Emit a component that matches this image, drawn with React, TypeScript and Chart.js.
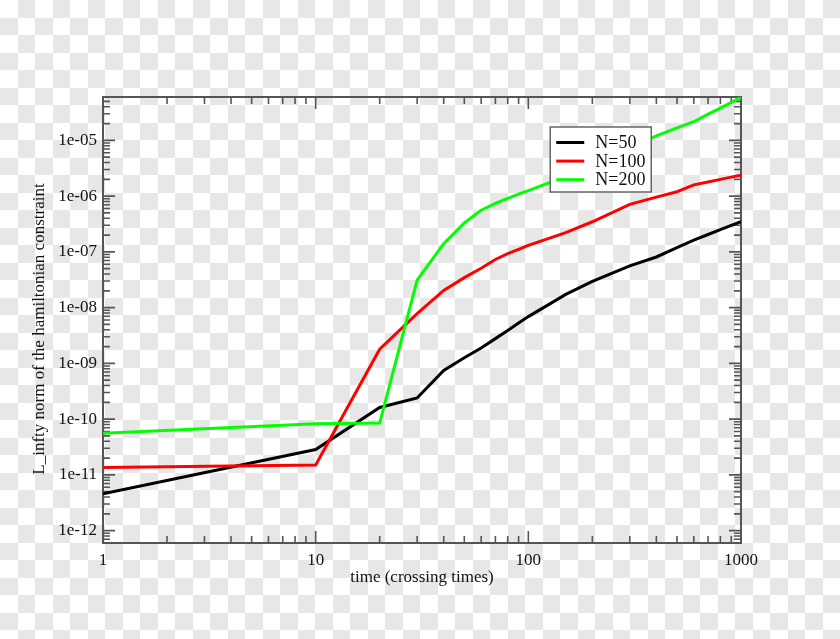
import React, { useEffect, useRef } from 'react';
import { Chart, registerables } from 'chart.js';

Chart.register(...registerables);

// ---- data ----
const times = [1, 10, 20, 30, 40, 50, 60, 70, 80, 90, 100, 150, 200, 300, 400, 500, 600, 700, 800, 900, 1000];
const n50 = [4.6e-12, 2.85e-11, 1.62e-10, 2.4e-10, 7.5e-10, 1.26e-9, 1.89e-9, 2.78e-9, 3.9e-9, 5.3e-9, 6.9e-9, 1.73e-8, 2.95e-8, 5.6e-8, 8.1e-8, 1.19e-7, 1.63e-7, 2.05e-7, 2.5e-7, 3.0e-7, 3.5e-7];
const n100 = [1.35e-11, 1.5e-11, 1.8e-9, 7.8e-9, 2.03e-8, 3.45e-8, 5.1e-8, 7.3e-8, 9.3e-8, 1.11e-7, 1.31e-7, 2.22e-7, 3.47e-7, 7.1e-7, 9.6e-7, 1.2e-6, 1.59e-6, 1.79e-6, 2.0e-6, 2.19e-6, 2.38e-6];
const n200 = [5.6e-11, 8.3e-11, 8.5e-11, 3.1e-8, 1.4e-7, 3.3e-7, 5.6e-7, 7.4e-7, 9.1e-7, 1.09e-6, 1.26e-6, 2.26e-6, 3.7e-6, 7.4e-6, 1.21e-5, 1.67e-5, 2.16e-5, 2.95e-5, 3.8e-5, 4.8e-5, 5.9e-5];

const seriesLabels = ['N=50', 'N=100', 'N=200'];
const seriesColors = ['#000000', '#ff0000', '#00ff00'];

const xTickValues = [1, 10, 100, 1000];
const yTickValues = [1e-12, 1e-11, 1e-10, 1e-9, 1e-8, 1e-7, 1e-6, 1e-5];

const xTitle = 'time (crossing times)';
const yTitle = 'L_infty norm of the hamiltonian constraint';

const FONT = '"Liberation Serif", "DejaVu Serif", serif';

function expLabel(v: number): string {
  const e = Math.round(Math.log10(v));
  return '1e' + (e < 0 ? '-' : '+') + String(Math.abs(e)).padStart(2, '0');
}

function minorValues(min: number, max: number): { v: number; major: boolean }[] {
  const out: { v: number; major: boolean }[] = [];
  const e0 = Math.floor(Math.log10(min)) - 1;
  const e1 = Math.ceil(Math.log10(max)) + 1;
  for (let e = e0; e <= e1; e++) {
    for (let m = 1; m <= 9; m++) {
      const v = m * Math.pow(10, e);
      if (v >= min * 0.9999 && v <= max * 1.0001) out.push({ v, major: m === 1 });
    }
  }
  return out;
}

const checkerPlugin = {
  id: 'checker',
  beforeDraw(chart: any) {
    const ctx = chart.ctx;
    const w = chart.width;
    const h = chart.height;
    const s = 17.5;
    ctx.save();
    ctx.setTransform(1, 0, 0, 1, 0, 0);
    ctx.globalCompositeOperation = 'source-over';
    ctx.fillStyle = 'rgb(255,255,255)';
    ctx.fillRect(0, 0, w, h);
    ctx.fillStyle = 'rgb(231,231,231)';
    for (let r = 0; r * s < h; r++) {
      for (let c = 0; c * s < w; c++) {
        if ((r + c) % 2 === 1) {
          const x0 = Math.round(c * s);
          const y0 = Math.round(r * s);
          ctx.fillRect(x0, y0, Math.round((c + 1) * s) - x0, Math.round((r + 1) * s) - y0);
        }
      }
    }
    ctx.restore();
  },
};

const framePlugin = {
  id: 'frame',
  beforeDatasetsDraw(chart: any) {
    const { ctx, chartArea } = chart;
    const { left, right, top, bottom } = chartArea;
    const xs = chart.scales.x;
    const ys = chart.scales.y;
    ctx.save();
    ctx.strokeStyle = '#555555';
    ctx.lineWidth = 1.6;
    const majorLen = 12;
    const minorLen = 7;
    ctx.beginPath();
    for (const t of minorValues(xs.min, xs.max)) {
      const px = xs.getPixelForValue(t.v);
      const len = t.major ? majorLen : minorLen;
      ctx.moveTo(px, bottom);
      ctx.lineTo(px, bottom - len);
      ctx.moveTo(px, top);
      ctx.lineTo(px, top + len);
    }
    for (const t of minorValues(ys.min, ys.max)) {
      const py = ys.getPixelForValue(t.v);
      const len = t.major ? majorLen : minorLen;
      ctx.moveTo(left, py);
      ctx.lineTo(left + len, py);
      ctx.moveTo(right, py);
      ctx.lineTo(right - len, py);
    }
    ctx.stroke();
    ctx.lineWidth = 2;
    ctx.strokeRect(left, top, right - left, bottom - top);
    ctx.restore();
  },
};

const yTitlePlugin = {
  id: 'yTitleText',
  afterDraw(chart: any) {
    const { ctx, chartArea } = chart;
    ctx.save();
    ctx.translate(40, (chartArea.top + chartArea.bottom) / 2 + 9);
    ctx.rotate(-Math.PI / 2);
    ctx.font = '17px ' + FONT;
    ctx.fillStyle = '#111111';
    ctx.textAlign = 'center';
    ctx.textBaseline = 'middle';
    ctx.fillText(yTitle, 0, 0);
    ctx.restore();
  },
};

const legendPlugin = {
  id: 'boxLegend',
  afterDraw(chart: any) {
    const { ctx, chartArea } = chart;
    const w = chartArea.right - chartArea.left;
    const bx = chartArea.left + w * 0.701;
    const by = chartArea.top + 30;
    const bw = 101;
    const bh = 65;
    ctx.save();
    ctx.fillStyle = '#ffffff';
    ctx.fillRect(bx, by, bw, bh);
    ctx.strokeStyle = '#666666';
    ctx.lineWidth = 1.5;
    ctx.strokeRect(bx, by, bw, bh);
    ctx.font = '18px ' + FONT;
    ctx.textBaseline = 'middle';
    ctx.textAlign = 'left';
    chart.data.datasets.forEach((ds: any, i: number) => {
      const cy = by + 15.5 + i * 18.6;
      ctx.strokeStyle = ds.borderColor;
      ctx.lineWidth = 3;
      ctx.beginPath();
      ctx.moveTo(bx + 6, cy);
      ctx.lineTo(bx + 34, cy);
      ctx.stroke();
      ctx.fillStyle = '#111111';
      ctx.fillText(ds.label, bx + 45, cy + 1);
    });
    ctx.restore();
  },
};

export default function App() {
  const ref = useRef<HTMLCanvasElement | null>(null);

  useEffect(() => {
    if (!ref.current) return;
    const series = [n50, n100, n200];
    const chart = new Chart(ref.current, {
      type: 'line',
      data: {
        datasets: series.map((vals, i) => ({
          label: seriesLabels[i],
          data: times.map((t, j) => ({ x: t, y: vals[j] })),
          borderColor: seriesColors[i],
          backgroundColor: seriesColors[i],
          borderWidth: 3,
          pointRadius: 0,
          tension: 0,
          fill: false,
          order: 2 - i,
        })),
      },
      options: {
        responsive: false,
        animation: false,
        events: [],
        layout: { padding: { top: 97, right: 99, left: 0, bottom: 0 } },
        plugins: {
          legend: { display: false },
          tooltip: { enabled: false },
        },
        scales: {
          x: {
            type: 'logarithmic',
            position: 'bottom',
            min: 1,
            max: 1000,
            afterBuildTicks: (s: any) => {
              s.ticks = xTickValues.map((v) => ({ value: v }));
            },
            afterFit: (s: any) => {
              s.height = 96;
            },
            grid: { display: false, drawTicks: false },
            border: { display: false },
            ticks: {
              padding: 7,
              color: '#111111',
              font: { family: FONT, size: 17 },
              autoSkip: false,
              maxRotation: 0,
              callback: (v: any) => String(v),
            },
            title: {
              display: true,
              text: xTitle,
              color: '#111111',
              font: { family: FONT, size: 17 },
              padding: { top: 0, bottom: 51 },
            },
          },
          y: {
            type: 'logarithmic',
            position: 'left',
            min: 6e-13,
            max: 6e-5,
            afterBuildTicks: (s: any) => {
              s.ticks = yTickValues.map((v) => ({ value: v }));
            },
            afterFit: (s: any) => {
              s.width = 103;
            },
            grid: { display: false, drawTicks: false },
            border: { display: false },
            ticks: {
              padding: 6,
              color: '#111111',
              font: { family: FONT, size: 17 },
              autoSkip: false,
              callback: (v: any) => expLabel(Number(v)),
            },
            title: { display: false },
          },
        },
      },
      plugins: [checkerPlugin, framePlugin, yTitlePlugin, legendPlugin],
    } as any);
    return () => chart.destroy();
  }, []);

  return (
    <div style={{ position: 'absolute', left: 0, top: 0, width: 840, height: 639 }}>
      <canvas ref={ref} width={840} height={639} style={{ display: 'block' }} />
    </div>
  );
}
